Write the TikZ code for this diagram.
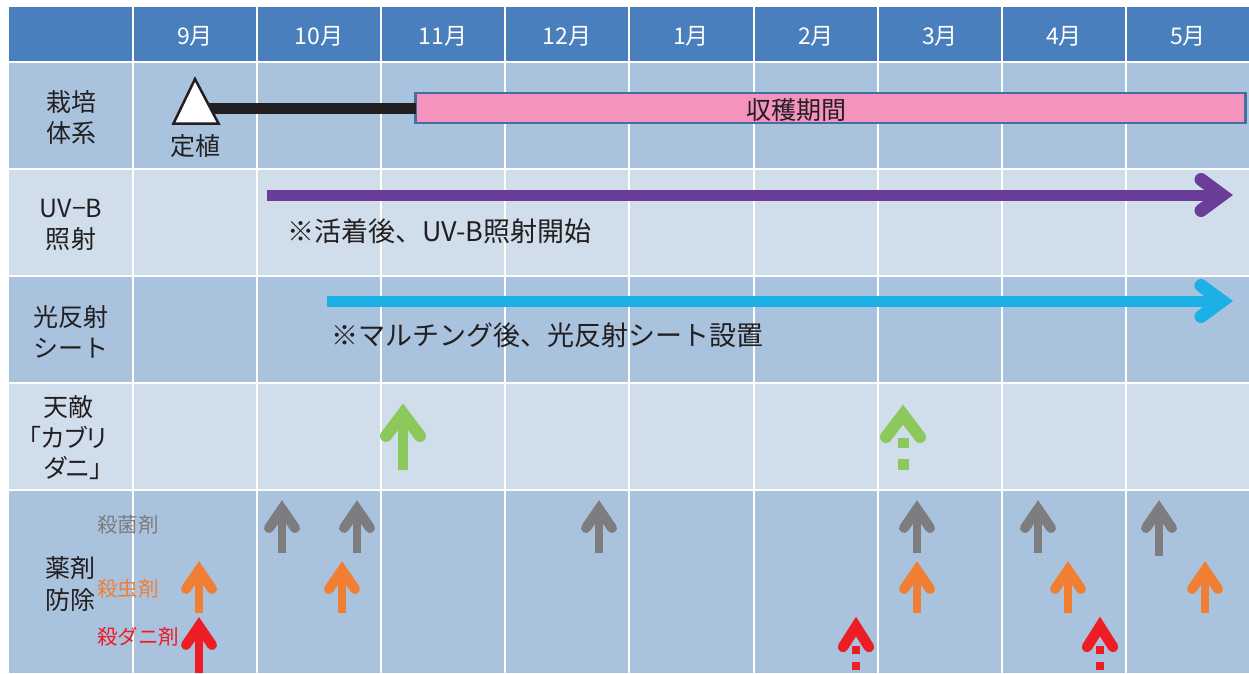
\documentclass[tikz,border=0pt]{standalone}
\usepackage{fontspec}
\setmainfont{Noto Sans CJK JP}
\definecolor{hdr}{HTML}{4A7FBD}
\definecolor{rowdark}{HTML}{A9C3DE}
\definecolor{rowlight}{HTML}{D0DEEB}
\definecolor{txt}{HTML}{231F20}
\definecolor{pinkfill}{HTML}{F393BE}
\definecolor{pinkline}{HTML}{41719C}
\definecolor{uvpurple}{HTML}{6A3D98}
\definecolor{refcyan}{HTML}{1BB0E6}
\definecolor{fgreen}{HTML}{8CC85B}
\definecolor{fgray}{HTML}{7D7D80}
\definecolor{forange}{HTML}{F07F33}
\definecolor{fred}{HTML}{EE1C24}
\tikzset{
  gridline/.style={white, line width=2pt},
  month/.style={text=white, font=\fontsize{23}{23}\selectfont, inner sep=0pt},
  rowlabel/.style={text=txt, font=\fontsize{25}{31}\selectfont, align=center, inner sep=0pt},
  note/.style={text=txt, font=\fontsize{27}{27}\selectfont, anchor=west, inner sep=0pt},
  druglabel/.style={font=\fontsize{20.5}{20.5}\selectfont, anchor=west, inner sep=0pt},
  pinkbar/.style={draw=pinkline, fill=pinkfill, line width=2.5pt, minimum width=830pt, minimum height=30pt, inner sep=0pt, outer sep=0pt},
  arrhead/.style={line cap=round, line join=miter},
  % small vertical arrow, tip at origin, #1 = length
  pics/uarr/.style={code={
    \draw[arrhead, line width=10pt] (-13,28) -- (0,9) -- (13,28);
    \fill (-4.25,14) rectangle (4.25,#1);
  }},
  % small vertical arrow with dotted shaft
  pics/darr/.style={code={
    \draw[arrhead, line width=10.5pt] (-13,30) -- (0,9.5) -- (13,30);
    \fill (-4,29) rectangle (4,37);
    \fill (-4,45) rectangle (4,53);
  }},
  % large vertical arrow
  pics/uarrbig/.style={code={
    \draw[arrhead, line width=12pt] (-17,33) -- (0,10.5) -- (17,33);
    \fill (-5.4,16) rectangle (5.4,#1);
  }},
  pics/darrbig/.style={code={
    \draw[arrhead, line width=12pt] (-17,33) -- (0,10.5) -- (17,33);
    \fill (-5.5,34) rectangle (5.5,44);
    \fill (-5.5,55) rectangle (5.5,66);
  }},
  pics/rarr/.style={code={
    \draw[arrhead, line width=13pt] (-33,-15.5) -- (-12,0) -- (-33,15.5);
  }}
}
\begin{document}
\begin{tikzpicture}[x=1pt,y=-1pt]
\useasboundingbox (0,0) rectangle (1249,673);
% background rows
\fill[white] (0,0) rectangle (1249,673);
\fill[hdr] (9,7) rectangle (1249,62);
\fill[rowdark] (9,62) rectangle (1249,169);
\fill[rowlight] (9,169) rectangle (1249,276);
\fill[rowdark] (9,276) rectangle (1249,383);
\fill[rowlight] (9,383) rectangle (1249,490);
\fill[rowdark] (9,490) rectangle (1249,673);
\foreach \y in {62,169,276,383,490} \draw[gridline] (9,\y) -- (1249,\y);
\foreach \x in {133,257,381,505,629,754,878,1002,1126} \draw[gridline] (\x,7) -- (\x,673);
% months
\foreach \x/\m [count=\i] in {195/9月,319/10月,443/11月,567/12月,691/1月,816/2月,940/3月,1064/4月,1188/5月}
  \node[month] (m\i) at (\x,36) {\m};
% row labels
\node[rowlabel] (l1) at (71,117.5) {栽培\\体系};
\node[rowlabel] (l2) at (71,225) {UV−B\\照射};
\node[rowlabel] (l3) at (71,332) {光反射\\シート};
\node[rowlabel, font=\fontsize{25}{30.5}\selectfont\addfontfeature{RawFeature=+palt}] (l4) at (68,438) {天敵\\「カブリ\\\hspace*{10pt}ダニ」};
\node[rowlabel, font=\fontsize{25}{32}\selectfont] (l5) at (70,584) {薬剤\\防除};
% row 1: cultivation
\node[pinkbar] (harv) at (830.5,108) {};
\node[text=txt, font=\fontsize{25}{25}\selectfont, inner sep=0pt] (harvtxt) at (796,110) {収穫期間};
\coordinate (plant) at (200,108);
\draw[txt, line width=11pt] (plant) -- (harv.west);
\draw[txt, line width=2.5pt, fill=white, line join=miter] (195,79) -- (218.5,123.5) -- (173.5,123.5) -- cycle;
\node[text=txt, font=\fontsize{25}{25}\selectfont, inner sep=0pt] (teishoku) at (195,146) {定植};
% row 2: UV-B
\coordinate (uvs) at (267,195);
\coordinate (uve) at (1234,195);
\draw[uvpurple, line width=11pt] (uvs) -- ([xshift=-15pt]uve);
\pic[uvpurple] (uvh) at (uve) {rarr};
\node[note] (uvnote) at (287,231) {※活着後、UV-B照射開始};
% row 3: reflective sheet
\coordinate (rfs) at (327,301);
\coordinate (rfe) at (1234,301);
\draw[refcyan, line width=11pt] (rfs) -- ([xshift=-15pt]rfe);
\pic[refcyan] (rfh) at (rfe) {rarr};
\node[note] (rfnote) at (331,335) {※マルチング後、光反射シート設置};
% row 4: natural enemy
\pic[fgreen] (gr1) at (403,403) {uarrbig=67};
\pic[fgreen] (gr2) at (903,404) {darrbig};
% row 5: chemicals
\node[druglabel, text=fgray] (fung) at (97,525) {殺菌剤};
\node[druglabel, text=forange] (insect) at (97,589) {殺虫剤};
\node[druglabel, text=fred] (acar) at (97,637) {殺ダニ剤};
\foreach \x/\l in {282/53,357/53,599/53,917/53,1038/53,1159/56}
  \pic[fgray] at (\x,500) {uarr=\l};
\foreach \x in {199,342,917,1068,1205}
  \pic[forange] at (\x,561) {uarr=52};
\pic[fred] (r1) at (199,617) {uarr=56};
\pic[fred] (r2) at (856,617) {darr};
\pic[fred] (r3) at (1100,617) {darr};
\end{tikzpicture}
\end{document}
